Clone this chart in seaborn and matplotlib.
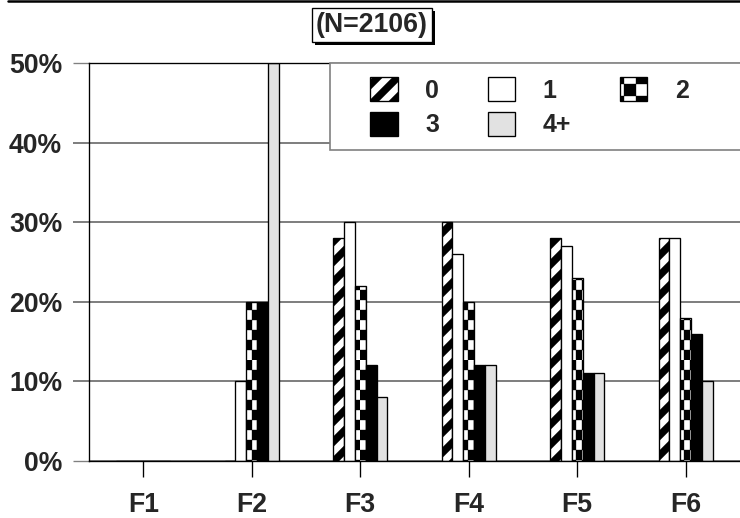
import matplotlib
matplotlib.use("Agg")
import numpy as np
import pandas as pd
import matplotlib.pyplot as plt
import matplotlib.patheffects as pe
from matplotlib import hatch as mhatch
from matplotlib.path import Path
from matplotlib.patches import Patch, Rectangle
from matplotlib.lines import Line2D
import seaborn as sns

# ---- data (percent) ----
categories = ["F1", "F2", "F3", "F4", "F5", "F6"]
series = ["0", "1", "2", "3", "4+"]
vals_0 = [0, 0, 28, 30, 28, 28]
vals_1 = [0, 10, 30, 26, 27, 28]
vals_2 = [0, 20, 22, 20, 23, 18]
vals_3 = [0, 20, 12, 12, 11, 16]
vals_4 = [0, 50, 8, 12, 11, 10]
y_ticks = [0, 10, 20, 30, 40, 50]
n_label = "(N=2106)"


# filled hatch patterns: 'O' -> thick diagonal bands, '*' -> checkerboard
class BandHatch(mhatch.HatchPatternBase):
    def __init__(self, hatch, density):
        self.n = 6 if "O" in hatch else 0
        self.num_vertices = 2 * self.n * 5

    def set_vertices_and_codes(self, vertices, codes):
        w = 0.5 / self.n
        for idx, k in enumerate(range(-self.n, self.n)):
            b = k / self.n
            vertices[idx * 5:idx * 5 + 5] = [(0, b), (1, 1 + b), (1, 1 + b + w), (0, b + w), (0, b)]
            codes[idx * 5:idx * 5 + 5] = [Path.MOVETO, Path.LINETO, Path.LINETO,
                                          Path.LINETO, Path.CLOSEPOLY]


class CheckerHatch(mhatch.HatchPatternBase):
    def __init__(self, hatch, density):
        c = hatch.count("*")
        if c == 0:
            self.nx, self.ny = 0, 0
        elif c == 1:
            self.nx, self.ny = 10, 10
        else:
            self.nx, self.ny = 20, 12
        self.num_vertices = self.nx * self.ny // 2 * 5

    def set_vertices_and_codes(self, vertices, codes):
        k = 0
        for i in range(self.nx):
            for j in range(self.ny):
                if (i + j) % 2:
                    continue
                x0, x1 = i / self.nx, (i + 1) / self.nx
                y0, y1 = j / self.ny, (j + 1) / self.ny
                vertices[k:k + 5] = [(x0, y0), (x1, y0), (x1, y1), (x0, y1), (x0, y0)]
                codes[k:k + 5] = [Path.MOVETO, Path.LINETO, Path.LINETO,
                                  Path.LINETO, Path.CLOSEPOLY]
                k += 5


mhatch._hatch_types = [t for t in mhatch._hatch_types
                       if t not in (mhatch.LargeCircles, mhatch.Stars)] + [BandHatch, CheckerHatch]

sns.set_style("white")
plt.rcParams["font.family"] = ["Liberation Sans", "DejaVu Sans"]
plt.rcParams["font.weight"] = "bold"
plt.rcParams["hatch.linewidth"] = 0.2
plt.rcParams["hatch.color"] = "black"

df = pd.DataFrame({
    "cat": np.tile(categories, len(series)),
    "series": np.repeat(series, len(categories)),
    "val": vals_0 + vals_1 + vals_2 + vals_3 + vals_4,
})

colors = {"0": "white", "1": "white", "2": "white", "3": "black", "4+": "#e2e2e2"}
bar_hatch = {"0": "O", "1": "", "2": "**", "3": "", "4+": ""}
leg_hatch = {"0": "O", "1": "", "2": "*", "3": "", "4+": ""}

W, H, DPI = 740, 518, 120
fig = plt.figure(figsize=(W / DPI, H / DPI), dpi=DPI)
ax = fig.add_axes([89 / W, 57 / H, 651 / W, 398 / H])

sns.barplot(data=df, x="cat", y="val", hue="series", order=categories, hue_order=series,
            palette=colors, saturation=1, width=0.5, errorbar=None, legend=False,
            edgecolor="black", linewidth=0.8, ax=ax)

for cont, s in zip(ax.containers, series):
    for bar in cont:
        bar.set_hatch(bar_hatch[s])

ax.set_xlim(-0.5, 5.5)
ax.set_ylim(0, 50)
ax.set_yticks(y_ticks, labels=[f"{v}%" for v in y_ticks])
ax.set_xlabel("")
ax.set_ylabel("")
ax.set_axisbelow(True)
ax.yaxis.grid(True, color="#808080", lw=1.2)
ax.xaxis.grid(False)

for side in ["left", "top", "bottom"]:
    ax.spines[side].set_visible(True)
    ax.spines[side].set_color("black")
    ax.spines[side].set_linewidth(0.8)
ax.spines["right"].set_visible(False)

ax.tick_params(axis="y", direction="out", left=True, length=9.6, width=1.2,
               color="#808080", pad=6.5, labelsize=16)
ax.tick_params(axis="x", direction="out", bottom=True, length=9.6, width=0.8,
               color="black", pad=9, labelsize=16)
yt = ax.yaxis.get_major_ticks()
for t in (yt[0], yt[-1]):
    t.tick1line.set_color("black")
    t.tick1line.set_markeredgewidth(0.8)

# legend box
ax.add_patch(Rectangle(((330 - 89) / 651, (461 - 150) / 398), 0.7, 87 / 398,
                       transform=ax.transAxes, facecolor="white", edgecolor="#808080",
                       lw=1.0, clip_on=False, zorder=3))
handles = {s: Patch(facecolor=colors[s], edgecolor="black", lw=0.8, hatch=leg_hatch[s], label=s)
           for s in series}
order = ["0", "3", "1", "4+", "2"]
ax.legend(handles=[handles[s] for s in order], loc="upper left",
          bbox_to_anchor=(370 / W, 1 - 77 / H), bbox_transform=fig.transFigure,
          frameon=False, ncol=3, borderpad=0, borderaxespad=0,
          handlelength=1.1, handleheight=1.1, handletextpad=1.1,
          columnspacing=1.95, labelspacing=0.38,
          prop={"weight": "bold", "size": 15})

# title box with shadow
t = fig.text(372 / W, 1 - 25 / H, n_label, ha="center", va="center", fontsize=16,
             fontweight="bold",
             bbox=dict(boxstyle="square,pad=0.15", fc="white", ec="black", lw=0.8))
t.get_bbox_patch().set_path_effects([
    pe.withSimplePatchShadow(offset=(1.5, -1.5), shadow_rgbFace="black", alpha=1.0)])

fig.add_artist(Line2D([8 / W, 1], [1 - 1 / H, 1 - 1 / H], transform=fig.transFigure,
                      color="black", lw=1.5))

fig.savefig("out.png", dpi=DPI)
